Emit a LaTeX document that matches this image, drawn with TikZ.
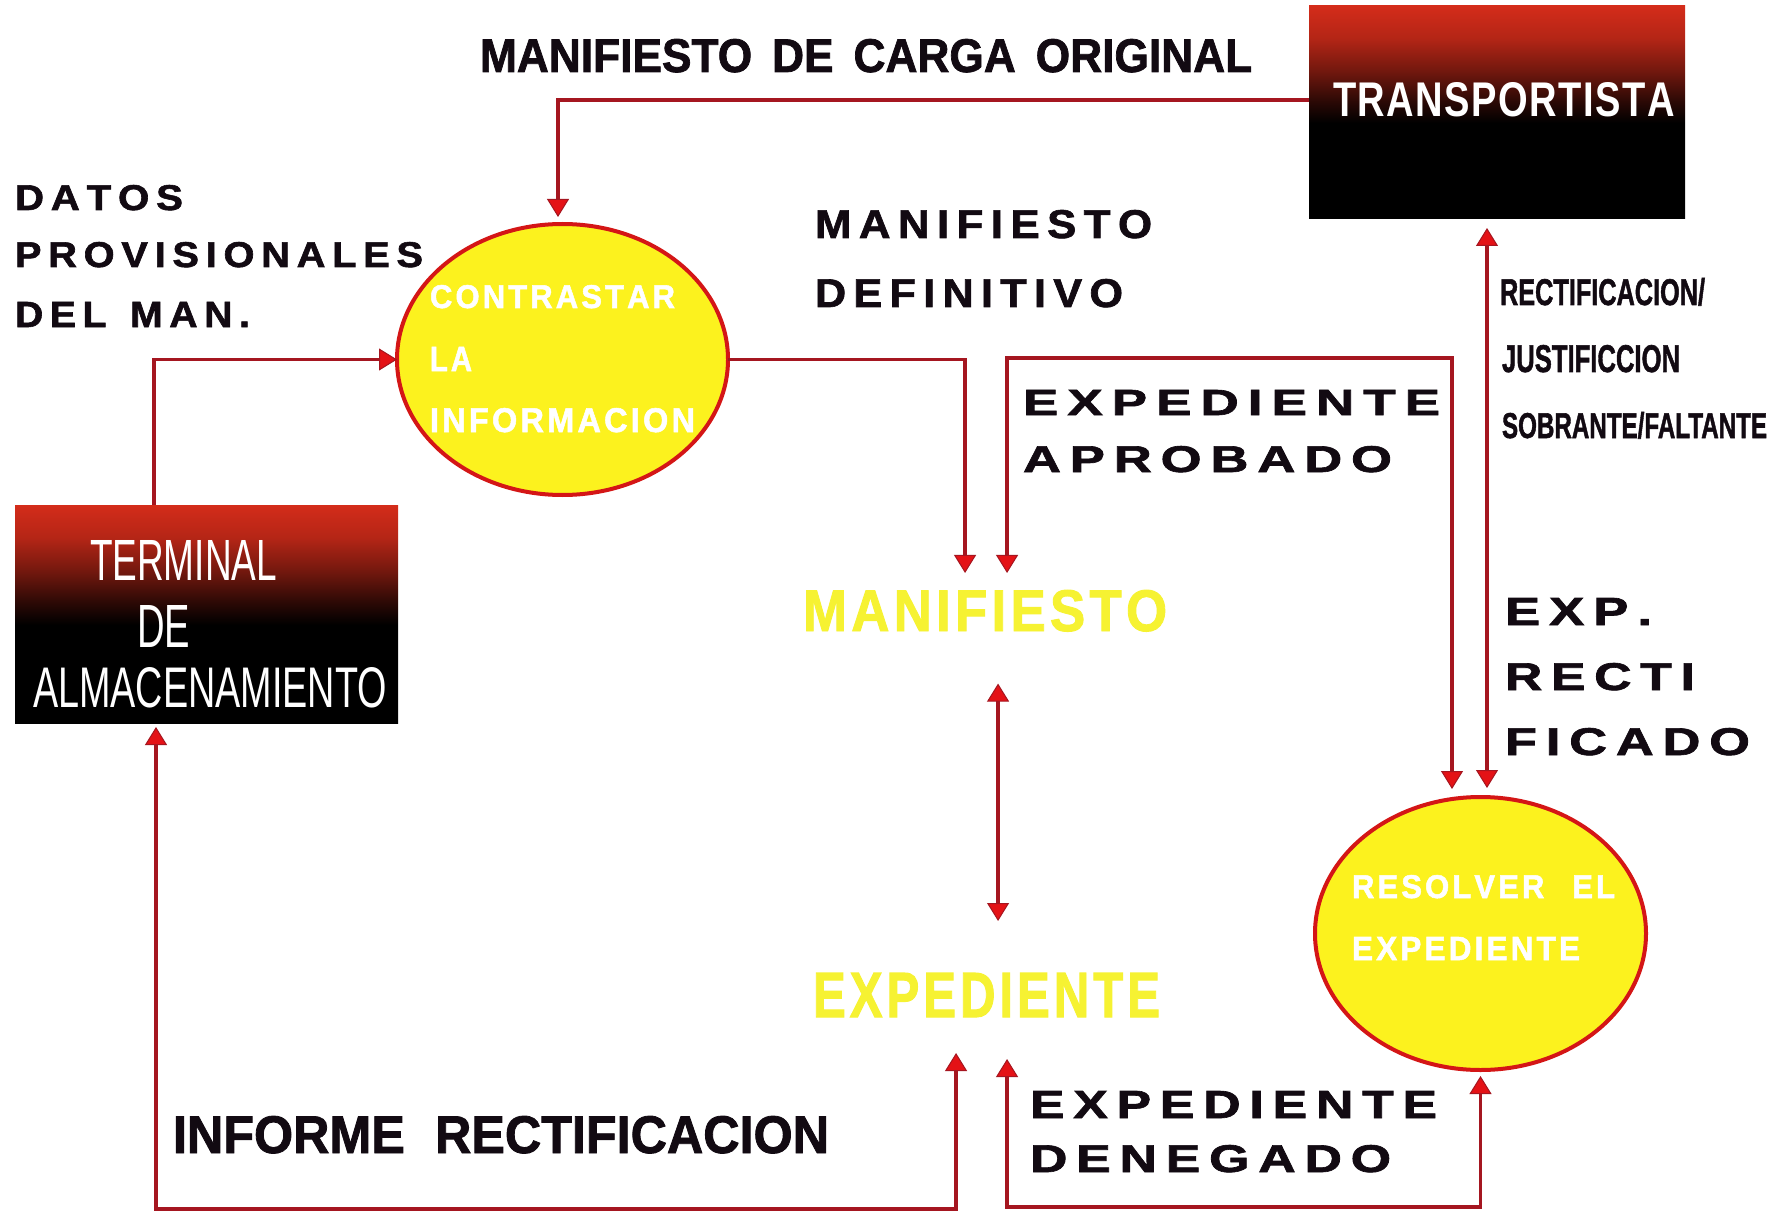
\documentclass[tikz,border=0pt]{standalone}
\usepackage{fontspec}
\setmainfont{Liberation Sans}
\newfontfamily\hb{Liberation Sans}[BoldFeatures={FakeBold=1.6}]
\usetikzlibrary{arrows.meta,shapes.geometric}
\definecolor{boxred}{RGB}{212,44,26}
\definecolor{linered}{RGB}{165,22,32}
\definecolor{tipred}{RGB}{228,18,22}
\definecolor{ellfill}{RGB}{252,242,30}
\definecolor{ellline}{RGB}{212,22,22}
\definecolor{ink}{RGB}{18,10,18}
\definecolor{yell}{RGB}{246,242,50}
\pgfdeclareverticalshading{boxshade}{100bp}{color(0bp)=(black); color(25bp)=(black); color(47.5bp)=(black); color(52.5bp)=(boxred!20!black); color(60bp)=(boxred!55!black); color(67.5bp)=(boxred!85!black); color(75bp)=(boxred); color(100bp)=(boxred)}
\ExplSyntaxOn
\NewDocumentCommand \lsp { m m }
 {
  \bool_set_false:N \l_tmpa_bool
  \tl_map_inline:nn { #2 }
   {
    \bool_if:NT \l_tmpa_bool { \kern #1 }
    ##1
    \bool_set_true:N \l_tmpa_bool
   }
 }
\ExplSyntaxOff
\newcommand\fit[3]{\resizebox{#1pt}{#2pt}{#3}}
\newcommand\Wd[1]{\hb\bfseries\lsp{0.17em}{#1}}
\newcommand\Ew[1]{\hb\bfseries\lsp{0.1em}{#1}}
\newcommand\Yw[1]{\hb\bfseries\lsp{0.08em}{#1}}
\newcommand\Cd{\hb\bfseries}
\tikzset{
  box/.style={rectangle, shade, shading=boxshade, inner sep=0pt, outer sep=0pt},
  proc/.style={ellipse, fill=ellfill, draw=ellline, line width=4pt, inner sep=0pt, outer sep=0pt},
  conn/.style={draw=linered, line width=3.4pt, >={Triangle[width=22pt,length=18pt,fill=tipred,line width=1pt]}},
  lbl/.style={anchor=base west, inner sep=0pt, outer sep=0pt},
  blk/.style={lbl, text=ink},
  wht/.style={lbl, text=white},
  ylw/.style={lbl, text=yell}
}
\begin{document}
\begin{tikzpicture}[x=1pt,y=-1pt]
\fill[white] (0,0) rectangle (1785,1214);
\useasboundingbox (0,0) rectangle (1785,1214);

% boxes and processes
\node[box, minimum width=376pt, minimum height=213pt] (trans) at (1497,112.5) {};
\node[box, minimum width=383pt, minimum height=218pt] (term) at (206.5,614) {};
\node[proc, minimum width=331pt, minimum height=271pt] (e1) at (562.5,359.5) {};
\node[proc, minimum width=331pt, minimum height=273pt] (e2) at (1480.5,933.5) {};

% box texts
\node[wht] (tTrans) at (1333,117) {\fit{342}{34}{\bfseries\lsp{0.04em}{TRANSPORTISTA}}};
\node[wht] (tTerm1) at (90,580) {\fit{187}{40}{TERMINAL}};
\node[wht] (tTerm2) at (137,647) {\fit{53}{42}{DE}};
\node[wht] (tTerm3) at (33,707) {\fit{354}{40}{ALMACENAMIENTO}};

% process texts
\node[wht] (tC1) at (430,308) {\fit{245}{23}{\Ew{CONTRASTAR}}};
\node[wht] (tC2) at (430,371) {\fit{42}{24}{\Ew{LA}}};
\node[wht] (tC3) at (430,432) {\fit{265}{24}{\Ew{INFORMACION}}};
\node[wht] (tR1) at (1352,898) {\fit{263}{23}{\Ew{RESOLVER}\hspace{0.9em}\Ew{EL}}};
\node[wht] (tR2) at (1352,960) {\fit{228}{23}{\Ew{EXPEDIENTE}}};

% stores
\node[ylw] (man) at (803,631) {\fit{364}{41}{\Yw{MANIFIESTO}}};
\node[ylw] (exp) at (813,1017) {\fit{347}{44}{\Yw{EXPEDIENTE}}};

% wide black labels
\node[blk] (lD1) at (15,210) {\fit{168}{25}{\Wd{DATOS}}};
\node[blk] (lD2) at (15,267) {\fit{408}{25}{\Wd{PROVISIONALES}}};
\node[blk] (lD3) at (15,327) {\fit{235}{25}{\Wd{DEL}\hspace{0.6em}\Wd{MAN.}}};
\node[blk] (lM1) at (815,238) {\fit{337}{28}{\Wd{MANIFIESTO}}};
\node[blk] (lM2) at (815,307) {\fit{308}{28}{\Wd{DEFINITIVO}}};
\node[blk] (lA1) at (1023,415) {\fit{417}{25}{\Wd{EXPEDIENTE}}};
\node[blk] (lA2) at (1023,472) {\fit{369}{26}{\Wd{APROBADO}}};
\node[blk] (lX1) at (1505,625) {\fit{147}{27}{\Wd{EXP.}}};
\node[blk] (lX2) at (1505,690) {\fit{190}{27}{\Wd{RECTI}}};
\node[blk] (lX3) at (1505,755) {\fit{245}{27}{\Wd{FICADO}}};
\node[blk] (lN1) at (1030,1118) {\fit{407}{27}{\Wd{EXPEDIENTE}}};
\node[blk] (lN2) at (1030,1172) {\fit{361}{27}{\Wd{DENEGADO}}};

% condensed black labels
\node[blk] (lO) at (480,72) {\fit{772}{33}{\Cd MANIFIESTO\hspace{0.45em}DE\hspace{0.45em}CARGA\hspace{0.45em}ORIGINAL}};
\node[blk] (lI) at (173,1153) {\fit{656}{37}{\Cd INFORME\hspace{0.6em}RECTIFICACION}};
\node[blk] (lR1) at (1500,305) {\fit{205}{27}{\Cd RECTIFICACION/}};
\node[blk] (lR2) at (1502,372) {\fit{178}{27}{\Cd JUSTIFICCION}};
\node[blk] (lR3) at (1502,438) {\fit{265}{26}{\Cd SOBRANTE/FALTANTE}};

% bend points
\coordinate (apr) at (1452,358);
\coordinate (bot1) at (500,1209);
\coordinate (bot2) at (1200,1207);

% connectors
\draw[conn,line width=4pt,->,shorten >=7pt] ([yshift=12.5pt]trans.west) -| ([xshift=-4.5pt]e1.north);
\draw[conn,->] ([xshift=-52.5pt]term.north) |- (e1.west);
\draw[conn,->,shorten >=17pt] (e1.east) -| ([xshift=-20pt]man.north);
\draw[conn,<->,shorten <=17pt,shorten >=8pt] ([xshift=22pt]man.north) |- (apr) -- (apr |- e2.north);
\draw[conn,line width=4pt,<->,shorten <=9pt,shorten >=9pt] ([xshift=-10pt]trans.south) -- ([xshift=-10pt]trans.south |- e2.north);
\draw[conn,<->,shorten <=52pt,shorten >=52pt] ([xshift=13pt]man.south) -- ([xshift=13pt]man.south |- exp.north);
\draw[conn,<->,shorten <=42pt,shorten >=6pt] ([xshift=20.5pt]exp.south) |- (bot2) -| (e2.south);
\draw[conn,<->,shorten <=36pt,shorten >=4pt] ([xshift=-30.5pt]exp.south) |- (bot1) -| ([xshift=-50.5pt]term.south);
\end{tikzpicture}
\end{document}
